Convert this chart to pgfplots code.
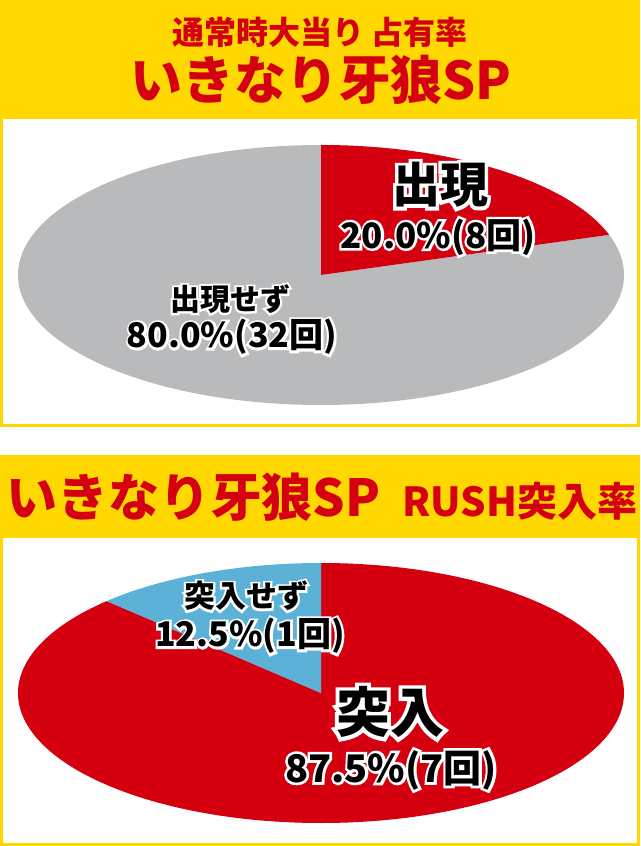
\documentclass[border=0pt]{standalone}
\usepackage{pgfplots}
\pgfplotsset{compat=1.18}
\usepackage{fontspec}
\newfontfamily\jp{Noto Sans CJK JP}
\newfontfamily\jpo{Noto Sans CJK JP}[BoldFeatures={FakeBold=14}]

\definecolor{hdryellow}{RGB}{254,216,0}
\definecolor{piered}{RGB}{212,0,16}
\definecolor{piegray}{RGB}{184,186,188}
\definecolor{pieblue}{RGB}{92,178,214}

% slice counts
\def\hitA{8}  \def\missA{32}
\def\hitB{7}  \def\missB{1}
% ellipse half axes (pt)
\def\rx{303} \def\ry{130}

% bold black text with a white outline
\newcommand{\olabel}[3]{%
  \node[inner sep=0, text=white] at (#1) {\jpo\bfseries\fontsize{#2}{#2}\selectfont #3};
  \node[inner sep=0, text=black] at (#1) {\jp\bfseries\fontsize{#2}{#2}\selectfont #3};}

\begin{document}
\begin{tikzpicture}[x=1pt,y=1pt]
% frames
\fill[white] (0,0) rectangle (640,846);
\fill[hdryellow] (0,419) rectangle (640,846);
\fill[white] (3,422) rectangle (637,727);
\fill[hdryellow] (0,0) rectangle (640,391);
\fill[white] (3,3) rectangle (637,308);

% titles
\node[text=piered, inner sep=0] at (320,814) {\jp\bfseries\fontsize{32}{32}\selectfont 通常時大当り 占有率};
\node[text=piered, inner sep=0] at (321,766) {\jp\bfseries\fontsize{52}{52}\selectfont いきなり牙狼SP};
\node[text=piered, inner sep=0] at (322,349) {\jp\bfseries\fontsize{51}{51}\selectfont いきなり牙狼SP\hspace{22pt}\fontsize{40}{40}\selectfont RUSH突入率};

% pie 1
\begin{axis}[at={(321pt,571pt)}, anchor=center, width=606pt, height=260pt,
  scale only axis, hide axis, xmin=-1, xmax=1, ymin=-1, ymax=1, clip=false]
\pgfmathsetmacro{\angA}{360*\hitA/(\hitA+\missA)}
\fill[piegray] (axis cs:0,0) -- (axis cs:0,1)
  arc[start angle=90, delta angle={360-\angA}, x radius=\rx pt, y radius=\ry pt] -- cycle;
\fill[piered] (axis cs:0,0) -- (axis cs:0,1)
  arc[start angle=90, delta angle={-\angA}, x radius=\rx pt, y radius=\ry pt] -- cycle;
\end{axis}

% pie 2
\begin{axis}[at={(321pt,153pt)}, anchor=center, width=606pt, height=260pt,
  scale only axis, hide axis, xmin=-1, xmax=1, ymin=-1, ymax=1, clip=false]
\pgfmathsetmacro{\angB}{360*\missB/(\hitB+\missB)}
\fill[piered] (axis cs:0,0) -- (axis cs:0,1)
  arc[start angle=90, delta angle={\angB-360}, x radius=\rx pt, y radius=\ry pt] -- cycle;
\fill[pieblue] (axis cs:0,0) -- (axis cs:0,1)
  arc[start angle=90, delta angle={\angB}, x radius=\rx pt, y radius=\ry pt] -- cycle;
\end{axis}

% slice labels
\olabel{440,661}{48}{出現}
\olabel{438,609}{35}{20.0\%(8回)}
\olabel{230,547}{30}{出現せず}
\olabel{232,509}{34}{80.0\%(32回)}
\olabel{246,250}{31}{突入せず}
\olabel{250,210}{34}{12.5\%(1回)}
\olabel{390,134}{54}{突入}
\olabel{391,76}{38}{87.5\%(7回)}
\end{tikzpicture}
\end{document}
